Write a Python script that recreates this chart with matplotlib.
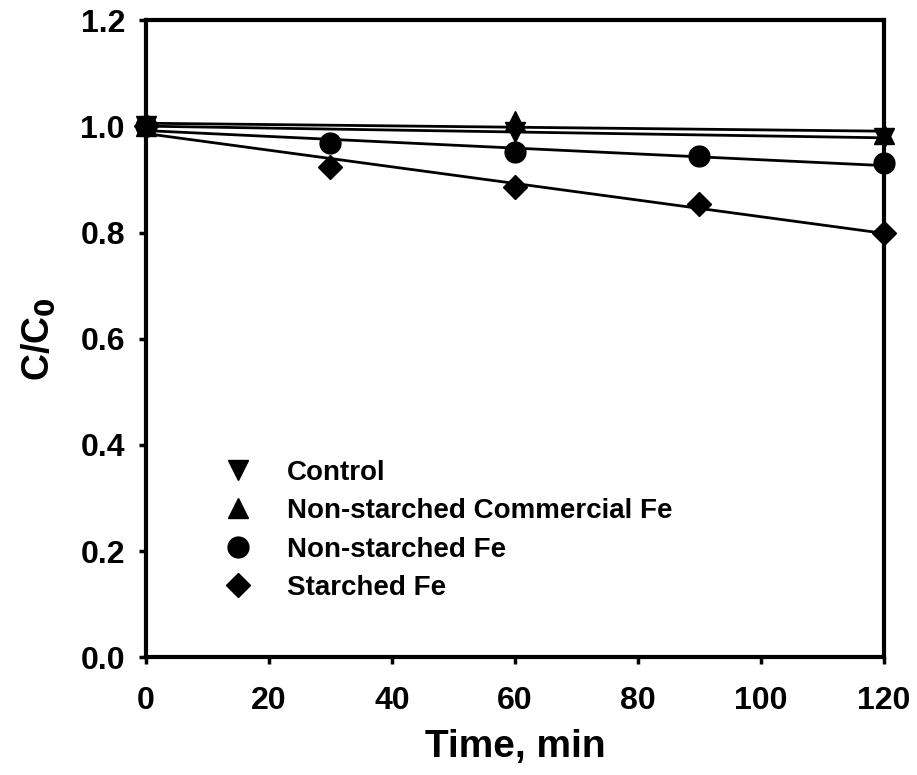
import matplotlib
matplotlib.use('Agg')
import matplotlib.pyplot as plt
import numpy as np

plt.rcParams['font.family'] = ['Liberation Sans', 'DejaVu Sans']
plt.rcParams['font.weight'] = 'bold'
plt.rcParams['mathtext.default'] = 'bf'

# Datos
tiempo = [0, 60, 120]
control = [1.000, 0.990, 0.978]
comercial = [1.000, 1.010, 0.985]
tiempo_fe = [0, 30, 60, 90, 120]
no_almidon = [1.000, 0.969, 0.952, 0.944, 0.930]
almidon = [1.000, 0.923, 0.886, 0.853, 0.800]

series = [
    (tiempo, control, 'v', 15, 'Control'),
    (tiempo, comercial, '^', 15, 'Non-starched Commercial Fe'),
    (tiempo_fe, no_almidon, 'o', 15, 'Non-starched Fe'),
    (tiempo_fe, almidon, 'D', 12, 'Starched Fe'),
]

fig = plt.figure(figsize=(9.17, 7.75), dpi=100)
ax = fig.add_axes([0.159, 0.152, 0.805, 0.822])

x_lin = np.array([0, 120])
for x, y, m, ms, nombre in series:
    # Línea de tendencia lineal
    coef = np.polyfit(x, y, 1)
    ax.plot(x_lin, np.polyval(coef, x_lin), color='black', lw=2.0, zorder=2)
    ax.plot(x, y, linestyle='none', marker=m, markersize=ms, color='black',
            label=nombre, zorder=3, clip_on=False)

ax.set_xlim(0, 120)
ax.set_ylim(0, 1.2)
ax.set_xticks(np.arange(0, 121, 20))
ax.set_yticks(np.arange(0, 1.21, 0.2))
ax.set_yticklabels([f'{v:.1f}' for v in np.arange(0, 1.21, 0.2)])
ax.tick_params(direction='out', length=5, width=2.5, labelsize=23)
ax.tick_params(axis='x', pad=16)
ax.tick_params(axis='y', pad=10)
for lab in ax.get_xticklabels() + ax.get_yticklabels():
    lab.set_fontweight('bold')
for s in ax.spines.values():
    s.set_linewidth(3)

ax.set_xlabel('Time, min', fontsize=28, fontweight='bold', labelpad=9)
ax.set_ylabel(r'C/C$_\mathbf{0}$', fontsize=27, fontweight='bold', labelpad=17)

ax.legend(loc='center left', bbox_to_anchor=(0.072, 0.199), frameon=False,
          prop={'weight': 'bold', 'size': 20}, handlelength=1.0,
          handletextpad=1.26, labelspacing=0.45, markerscale=1.0)

fig.savefig('out.png', dpi=100)
plt.close()
